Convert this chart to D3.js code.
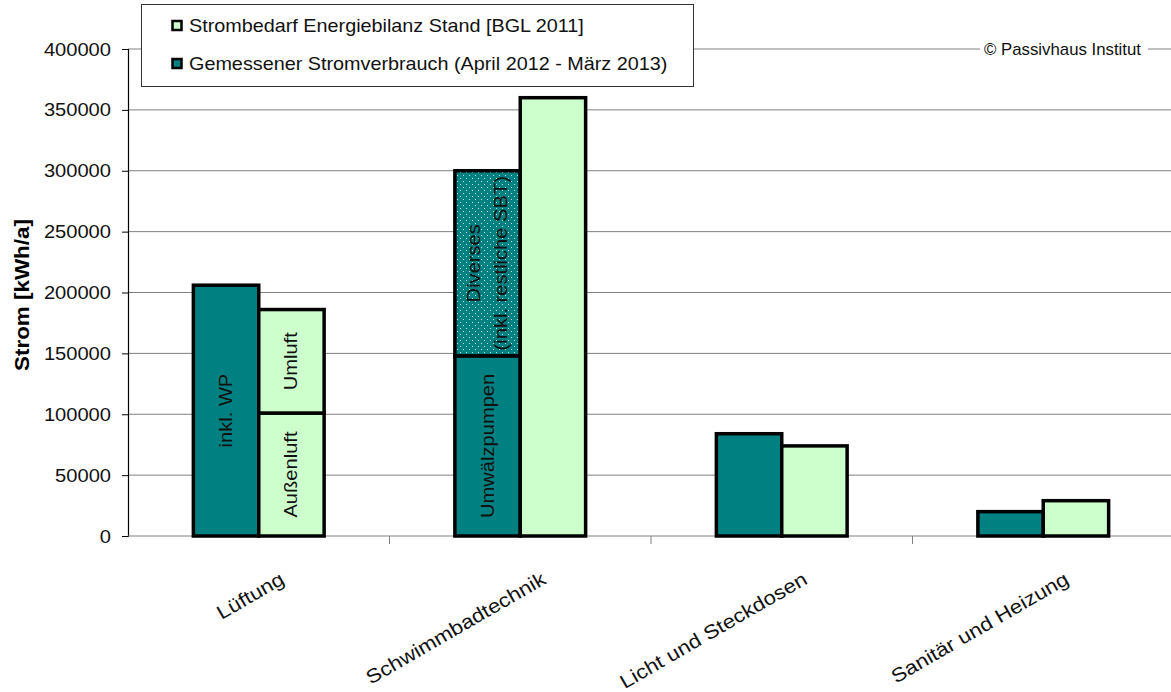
<!DOCTYPE html>
<html><head><meta charset="utf-8">
<script src="https://cdn.jsdelivr.net/npm/d3@7"></script>
<style>body{margin:0;background:#fff}svg{display:block;font-family:"Liberation Sans",Arial,sans-serif}</style>
</head><body><svg id="c" width="1171" height="692"></svg>
<script>
const categories = ["Lüftung","Schwimmbadtechnik","Licht und Steckdosen","Sanitär und Heizung"];
const seriesNames = ["Gemessener Stromverbrauch (April 2012 - März 2013)","Strombedarf Energiebilanz Stand [BGL 2011]"];
const measuredSegments = [
  [{v:206000,label:["inkl. WP"]}],
  [{v:148000,label:["Umwälzpumpen"]},{v:152000,label:["Diverses","(inkl. restliche SBT)"],dotted:true}],
  [{v:84000,label:[]}],
  [{v:20000,label:[]}]
];
const plannedSegments = [
  [{v:101000,label:["Außenluft"]},{v:85000,label:["Umluft"]}],
  [{v:360000,label:[]}],
  [{v:74000,label:[]}],
  [{v:29000,label:[]}]
];
const yTicks = [0,50000,100000,150000,200000,250000,300000,350000,400000];
const colors = {measured:"#008080", planned:"#CCFFCC"};

const svg = d3.select("#c");
const x0 = 128, x1 = 1174, yTop = 49, yBot = 536;
const x = d3.scaleBand().domain(categories).range([x0,x1]);
const y = d3.scaleLinear().domain([0,400000]).range([yBot,yTop]);
const bw = x.bandwidth()*0.25;

const defs = svg.append("defs");
const pat = defs.append("pattern").attr("id","dots").attr("width",6).attr("height",6).attr("patternUnits","userSpaceOnUse");
pat.append("rect").attr("width",6).attr("height",6).attr("fill",colors.measured);
pat.append("rect").attr("x",1).attr("y",1).attr("width",1).attr("height",1).attr("fill","#bfe6e0");
pat.append("rect").attr("x",4).attr("y",4).attr("width",1).attr("height",1).attr("fill","#bfe6e0");

// gridlines
svg.append("g").selectAll("line").data(yTicks.filter(d=>d>0)).join("line")
  .attr("x1",x0).attr("x2",1171).attr("y1",d=>y(d)).attr("y2",d=>y(d))
  .attr("stroke","#808080").attr("stroke-width",1);

// y axis
const ya = svg.append("g").attr("transform",`translate(${x0},0)`)
  .call(d3.axisLeft(y).tickValues(yTicks).tickSize(6).tickPadding(6).tickFormat(d3.format("d")));
ya.select(".domain").attr("stroke","#000").attr("stroke-width",1.2);
ya.selectAll(".tick line").attr("stroke","#000");
ya.selectAll("text").attr("x",0).attr("dy",null).attr("y",6)
  .attr("transform",`translate(-17,0) scale(1.15,1)`)
  .attr("font-size",17.5).attr("fill","#111").attr("font-family","Liberation Sans, Arial, sans-serif");

// x axis
const xa = svg.append("g").attr("transform",`translate(0,${yBot})`);
xa.append("line").attr("x1",x0).attr("x2",1171).attr("y1",0).attr("y2",0).attr("stroke","#808080");
xa.selectAll(".tk").data(categories.slice(1)).join("line").attr("class","tk")
  .attr("x1",d=>x(d)).attr("x2",d=>x(d)).attr("y1",0).attr("y2",8).attr("stroke","#808080");
xa.selectAll(".lbl").data(categories).join("text").attr("class","lbl")
  .attr("transform",d=>`translate(${x(d)+x.bandwidth()/2+27},${47}) rotate(-30) scale(1.14,1)`)
  .attr("text-anchor","end").attr("font-size",19.5).attr("fill","#111").text(d=>d);

// bars
const labelsToDraw = [];
let clipCount = 0;
function drawStack(segs, i, offset, color){
  let acc = 0;
  const cx = x(categories[i]) + x.bandwidth()/2 + offset;
  segs.forEach((s)=>{
    const yb = y(acc), yt = y(acc+s.v);
    acc += s.v;
    svg.append("rect").attr("x",cx).attr("y",yt).attr("width",bw).attr("height",yb-yt)
      .attr("fill", s.dotted ? "url(#dots)" : color).attr("stroke","#000").attr("stroke-width",3.5);
    if (s.label.length) labelsToDraw.push({s, cx, yt, yb, id:`segclip${clipCount++}`});
  });
}
categories.forEach((c,i)=>{
  drawStack(measuredSegments[i], i, -bw, colors.measured);
  drawStack(plannedSegments[i], i, 0, colors.planned);
});
labelsToDraw.forEach(({s,cx,yt,yb,id})=>{
  defs.append("clipPath").attr("id",id).append("rect").attr("x",cx).attr("y",yt+2).attr("width",bw).attr("height",yb-yt-4);
  const tx = cx+bw/2, ty = (yt+yb)/2;
  const n = s.label.length;
  const t = svg.append("g").attr("clip-path",`url(#${id})`).append("text")
    .attr("transform",`translate(${tx},${ty}) rotate(-90) scale(1.15,1)`).attr("text-anchor","middle")
    .attr("font-size",17.5).attr("fill","#111");
  s.label.forEach((l,k)=>{
    t.append("tspan").attr("x",0).attr("y",(k-(n-1)/2)*27+6).text(l);
  });
});

// y title
svg.append("text").attr("transform",`translate(29,295) rotate(-90) scale(1.15,1)`).attr("text-anchor","middle")
  .attr("font-size",19.5).attr("font-weight","bold").attr("fill","#000").text("Strom [kWh/a]");

// copyright
const cp = svg.append("g");
cp.append("rect").attr("x",980).attr("y",40).attr("width",168).attr("height",20).attr("fill","#fff");
cp.append("text").attr("transform",`translate(1141,${y(400000)+6}) scale(1.05,1)`).attr("text-anchor","end").attr("font-size",16).attr("fill","#111").text("© Passivhaus Institut");

// legend
const lg = svg.append("g");
lg.append("rect").attr("x",141.5).attr("y",4.5).attr("width",552).attr("height",82).attr("fill","#fff").attr("stroke","#333").attr("stroke-width",1);
const legendItems = [{name:seriesNames[1],color:colors.planned},{name:seriesNames[0],color:colors.measured}];
legendItems.forEach((d,i)=>{
  const yy = 25.5 + i*38;
  lg.append("rect").attr("x",172.5).attr("y",yy-4.5).attr("width",9).attr("height",9).attr("fill",d.color).attr("stroke","#000").attr("stroke-width",2.5);
  lg.append("text").attr("transform",`translate(189,${yy+6.5}) scale(1.1,1)`).attr("font-size",18).attr("fill","#111").text(d.name);
});
</script></body></html>
